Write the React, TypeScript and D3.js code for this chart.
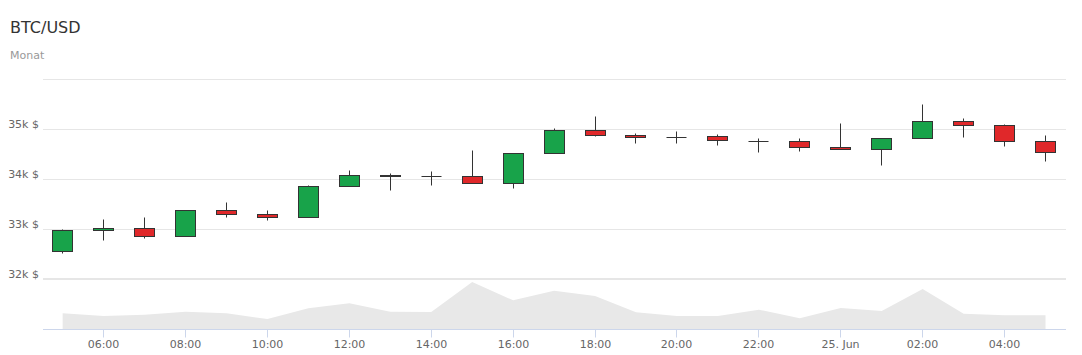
import React from "react";
import * as d3 from "d3";

const startHour = 5;
const opens = [32560, 32980, 33020, 32860, 33380, 33300, 33240, 33860, 34080, 34060, 34060, 33920, 34520, 34980, 34886, 34850, 34866, 34766, 34760, 34640, 34600, 34820, 35160, 35080, 34760];
const highs = [33006, 33206, 33246, 33385, 33546, 33386, 33886, 34186, 34120, 34166, 34586, 34520, 35020, 35266, 34926, 34966, 34906, 34826, 34820, 35126, 34820, 35506, 35220, 35106, 34886];
const lows = [32512, 32772, 32812, 32855, 33232, 33172, 33240, 33860, 33786, 33872, 33920, 33812, 34520, 34852, 34712, 34712, 34672, 34532, 34552, 34600, 34272, 34820, 34832, 34652, 34352];
const closes = [32980, 33020, 32860, 33380, 33300, 33240, 33860, 34080, 34060, 34060, 33920, 34520, 34980, 34872, 34840, 34840, 34772, 34766, 34632, 34600, 34820, 35166, 35080, 34760, 34540];
const volumes = [628, 520, 572, 692, 628, 400, 828, 1028, 692, 680, 1880, 1148, 1532, 1320, 668, 520, 520, 772, 428, 840, 720, 1600, 612, 548, 548];

const yTicks = [32000, 33000, 34000, 35000, 36000];
const yTickLabels = ["32k $", "33k $", "34k $", "35k $", ""];
const xTickHours = [6, 8, 10, 12, 14, 16, 18, 20, 22, 24, 26, 28];
const xTickLabels = ["06:00", "08:00", "10:00", "12:00", "14:00", "16:00", "18:00", "20:00", "22:00", "25. Jun", "02:00", "04:00"];

const title = "BTC/USD";
const subtitle = "Monat";

const FONT = "'DejaVu Sans', 'Lucida Grande', sans-serif";
const UP = "#18a34a";
const DOWN = "#e0282a";

const t = (h: number) => new Date(Date.UTC(2021, 5, 24, 0) + h * 3600000);

export default function App() {
  const W = 1082, H = 355;
  const left = 43, right = 1066;
  const dates = opens.map((_, i) => t(startHour + i));
  const x = d3.scaleTime()
    .domain([t(startHour - 0.48), t(startHour + opens.length - 1 + 0.5)])
    .range([left, right]);
  const y = d3.scaleLinear().domain([32000, 36000]).range([279.5, 79.5]);
  const yv = d3.scaleLinear().domain([0, 2000]).range([329, 279]);
  const half = 10;

  const area = d3.area<number>()
    .x((_, i) => x(dates[i]))
    .y0(yv(0))
    .y1((d) => yv(d))
    .curve(d3.curveLinear);

  const crisp = (v: number) => Math.round(v - 0.5) + 0.5;

  return (
    <svg width={W} height={H} style={{ position: "absolute", left: 0, top: 0, fontFamily: FONT }}>
      <rect x={0} y={0} width={W} height={H} fill="#ffffff" />
      <text x={10} y={33} fontSize={16} fill="#333333">{title}</text>
      <text x={10} y={59} fontSize={11} fill="#999999">{subtitle}</text>

      {yTicks.map((v, i) => (
        <g key={v}>
          <line x1={left} x2={right} y1={crisp(y(v))} y2={crisp(y(v))} stroke="#e6e6e6" strokeWidth={1} />
          {yTickLabels[i] && (
            <text x={39} y={crisp(y(v)) - 2} fontSize={11} fill="#666666" textAnchor="end">{yTickLabels[i]}</text>
          )}
        </g>
      ))}
      <line x1={left} x2={right} y1={278.5} y2={278.5} stroke="#e6e6e6" strokeWidth={1} />

      <path d={area(volumes) || ""} fill="#e8e8e8" stroke="none" />

      <line x1={left} x2={right} y1={329.5} y2={329.5} stroke="#ccd6eb" strokeWidth={1} />
      {xTickHours.map((h, i) => {
        const px = crisp(x(t(h)));
        return (
          <g key={h}>
            <line x1={px} x2={px} y1={329.5} y2={337.5} stroke="#ccd6eb" strokeWidth={1} />
            <text x={px} y={348} fontSize={11} fill="#666666" textAnchor="middle">{xTickLabels[i]}</text>
          </g>
        );
      })}

      {opens.map((o, i) => {
        const c = closes[i];
        const cx = crisp(x(dates[i]));
        const top = crisp(y(Math.max(o, c)));
        const bot = crisp(y(Math.min(o, c)));
        const hy = crisp(y(highs[i]));
        const ly = crisp(y(lows[i]));
        const fill = c >= o ? UP : DOWN;
        return (
          <g key={i}>
            <line x1={cx} x2={cx} y1={hy} y2={top} stroke="#333333" strokeWidth={1} />
            <line x1={cx} x2={cx} y1={bot} y2={ly} stroke="#333333" strokeWidth={1} />
            {bot - top < 1 ? (
              <line x1={cx - half} x2={cx + half} y1={top} y2={top} stroke="#333333" strokeWidth={1} />
            ) : (
              <rect x={cx - half} y={top} width={half * 2} height={bot - top} fill={fill} stroke="#333333" strokeWidth={1} />
            )}
          </g>
        );
      })}
    </svg>
  );
}
